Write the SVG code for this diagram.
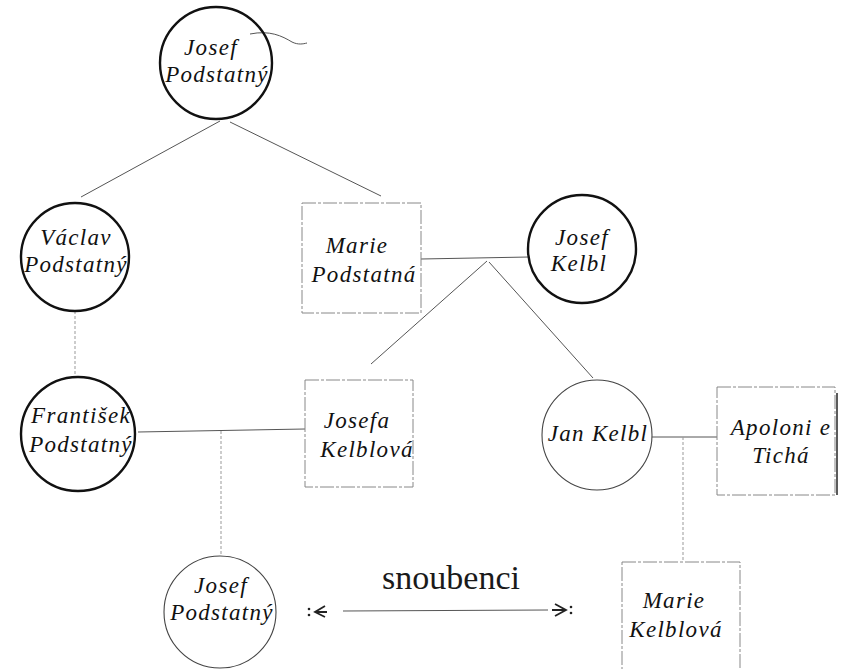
<svg xmlns="http://www.w3.org/2000/svg" width="843" height="669" viewBox="0 0 843 669">
  <style>
    .bg { fill: #ffffff; }
    .name { font-family: "Liberation Serif", "DejaVu Serif", serif; font-style: italic; font-size: 23px; letter-spacing: 1.3px; fill: #111; text-anchor: middle; }
    .bold { fill: none; stroke: #111; stroke-width: 2.4; }
    .thin { fill: none; stroke: #444; stroke-width: 1.1; }
    .box { fill: none; stroke: #888; stroke-width: 1; stroke-dasharray: 14 2 3 2; }
    .link { fill: none; stroke: #555; stroke-width: 1; }
    .dot { fill: none; stroke: #999; stroke-width: 1; stroke-dasharray: 3 2; }
    .head { fill: none; stroke: #222; stroke-width: 1.8; }
    .label { font-family: "Liberation Serif", "DejaVu Serif", serif; font-size: 34px; fill: #1a1a1a; text-anchor: middle; }
  </style>
  <rect class="bg" x="0" y="0" width="843" height="669"/>

  <!-- connectors -->
  <g id="connectors">
    <path class="link" d="M 250 34 C 270 30, 282 36, 292 42 C 298 45, 303 44, 307 43" stroke="#777"/>
    <line class="link" x1="220" y1="121" x2="81" y2="197"/>
    <line class="link" x1="230" y1="122" x2="381" y2="196"/>
    <line class="dot" x1="75" y1="311" x2="75" y2="377"/>
    <line class="link" x1="421" y1="259" x2="529" y2="257"/>
    <line class="link" x1="487" y1="261" x2="371" y2="364"/>
    <line class="link" x1="489" y1="262" x2="593" y2="378"/>
    <line class="link" x1="138" y1="432" x2="305" y2="429"/>
    <line class="dot" x1="221" y1="431" x2="221" y2="556"/>
    <line class="link" x1="652" y1="437" x2="717" y2="437"/>
    <line class="dot" x1="683" y1="437" x2="683" y2="562"/>
    <!-- engagement arrow -->
    <line class="link" x1="343" y1="611" x2="548" y2="610" stroke="#444"/>
    <path class="head" d="M 325 606 L 315 612 L 325 617 M 315 612 L 327 612"/>
    <circle cx="309" cy="609" r="1.3" fill="#222"/>
    <circle cx="309" cy="615" r="1.3" fill="#222"/>
    <path class="head" d="M 555 604 L 566 610 L 555 616 M 552 610 L 566 610"/>
    <circle cx="571" cy="607" r="1.3" fill="#222"/>
    <circle cx="571" cy="613" r="1.3" fill="#222"/>
  </g>

  <g id="josef-podstatny-1">
    <circle class="bold" cx="216" cy="63" r="56"/>
    <text class="name" x="211" y="55">Josef</text>
    <text class="name" x="217" y="82">Podstatný</text>
  </g>

  <g id="vaclav-podstatny">
    <circle class="bold" cx="75" cy="257" r="54"/>
    <text class="name" x="76" y="245">Václav</text>
    <text class="name" x="76" y="272">Podstatný</text>
  </g>

  <g id="marie-podstatna">
    <rect class="box" x="302" y="203" width="119" height="110"/>
    <text class="name" x="357" y="253">Marie</text>
    <text class="name" x="364" y="282">Podstatná</text>
  </g>

  <g id="josef-kelbl">
    <circle class="bold" cx="582" cy="249" r="54"/>
    <text class="name" x="582" y="245">Josef</text>
    <text class="name" x="579" y="271">Kelbl</text>
  </g>

  <g id="frantisek-podstatny">
    <circle class="bold" cx="78" cy="434" r="57"/>
    <text class="name" x="81" y="423">František</text>
    <text class="name" x="81" y="452">Podstatný</text>
  </g>

  <g id="josefa-kelblova">
    <rect class="box" x="305" y="380" width="108" height="107"/>
    <text class="name" x="357" y="428">Josefa</text>
    <text class="name" x="367" y="457">Kelblová</text>
  </g>

  <g id="jan-kelbl">
    <circle class="thin" cx="597" cy="435" r="55"/>
    <text class="name" x="598" y="441">Jan Kelbl</text>
  </g>

  <g id="apolonie-ticha">
    <rect class="box" x="717" y="387" width="118" height="108"/>
    <line x1="837" y1="393" x2="837" y2="495" stroke="#333" stroke-width="1.6"/>
    <text class="name" x="781" y="435">Apoloni e</text>
    <text class="name" x="781" y="463">Tichá</text>
  </g>

  <g id="josef-podstatny-2">
    <circle class="thin" cx="220" cy="612" r="56"/>
    <text class="name" x="221" y="593">Josef</text>
    <text class="name" x="222" y="620">Podstatný</text>
  </g>

  <g id="marie-kelblova">
    <rect class="box" x="622" y="562" width="118" height="112"/>
    <text class="name" x="674" y="608">Marie</text>
    <text class="name" x="676" y="637">Kelblová</text>
  </g>

  <text class="label" x="451" y="589">snoubenci</text>
</svg>
